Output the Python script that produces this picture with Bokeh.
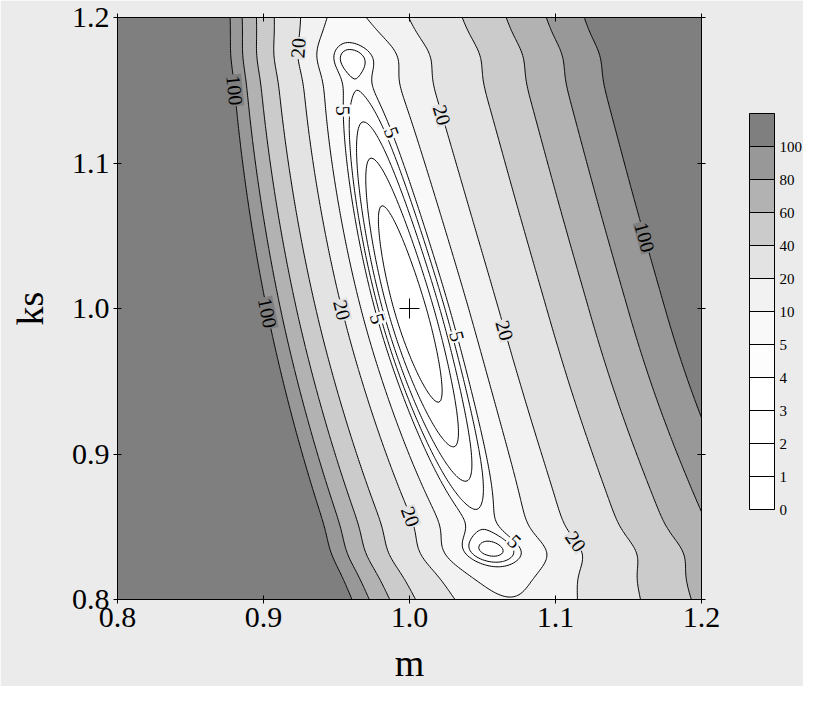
import numpy as np
from bokeh.plotting import figure
from bokeh.models import (LinearAxis, FixedTicker, PrintfTickFormatter, ColorBar,
                          LinearColorMapper, ColumnDataSource)
from bokeh.core.properties import value
from bokeh.embed import file_html
from bokeh.resources import INLINE

# ---------------- data ----------------
m_ticks = [0.8, 0.9, 1.0, 1.1, 1.2]
ks_ticks = [0.8, 0.9, 1.0, 1.1, 1.2]
levels = [0, 1, 2, 3, 4, 5, 10, 20, 40, 60, 80, 100]
band_colors = ["#ffffff", "#ffffff", "#ffffff", "#ffffff", "#fdfdfd", "#f9f9f9",
               "#f2f2f2", "#e3e3e3", "#cbcbcb", "#b2b2b2", "#989898", "#7f7f7f"]
best_m = [1.0]
best_ks = [1.0]

# shape of the error surface (valley) estimated from the contours
valley_tilt = [0.286, 0.31]        # valley centre: m = 1 - a*(ks-1) + b*(ks-1)^2
cross_curv = [8264.0]              # curvature across the valley
right_soft = [8.75]                # flattening of the right flank
right_widen = [3.5]                # right flank widening towards low ks
left_stiff = [2.7]                 # steepening of the left flank
left_taper = [0.85]                # left flank width change with ks
along_top = [249.6, 3.55, 40000.0]     # rise along valley above ks=1
along_bottom = [311.5, 4.64, 60000.0]  # rise along valley below ks=1
dip_t = [0.174, -0.168]            # secondary minima at the ends of the valley
dip_depth = [2.3, 3.6]
dip_width = [0.014, 0.014]

# contour labels: level, ks position, side of valley
label_level = [100, 100, 100, 20, 20, 20, 20, 20, 20, 5, 5, 5, 5, 5]
label_ks = [1.150, 0.997, 1.049, 1.179, 0.999, 0.857, 1.133, 0.985, 0.840,
            1.136, 1.121, 0.993, 0.981, 0.840]
label_side = ["L", "L", "R", "L", "L", "L", "R", "R", "R",
              "L", "R", "L", "R", "R"]


def valley_centre(kv):
    t = kv - 1.0
    return 1.0 - valley_tilt[0] * t + valley_tilt[1] * t ** 2


def surface(mv, kv):
    t = kv - 1.0
    u = mv - valley_centre(kv)
    v = u / (1.0 - left_taper[0] * t)
    w = u / (1.0 + right_widen[0] * np.minimum(t, 0.0) ** 2)
    right = cross_curv[0] * w ** 2 / (1.0 + right_soft[0] * np.abs(w))
    left = cross_curv[0] * v ** 2 * (1.0 + left_stiff[0] * np.abs(v))
    cross = np.where(u >= 0, right, left)
    at = np.abs(t)
    top = along_top[0] * t ** 2 / (1 + along_top[1] * at) + along_top[2] * t ** 6
    bot = along_bottom[0] * t ** 2 / (1 + along_bottom[1] * at) + along_bottom[2] * t ** 6
    base = np.where(t >= 0, top, bot)
    for c, d, wd in zip(dip_t, dip_depth, dip_width):
        base = base - d * np.exp(-((t - c) / wd) ** 2)
    return base + cross


xs = np.linspace(0.8, 1.2, 321)
ys = np.linspace(0.8, 1.2, 321)
MM, KK = np.meshgrid(xs, ys)
Z = surface(MM, KK)

FW, FH = 584, 582
p = figure(frame_width=FW, frame_height=FH, x_range=(0.8, 1.2), y_range=(0.8, 1.2),
           output_backend="svg", toolbar_location=None,
           min_border_left=117, min_border_top=17, min_border_right=102, min_border_bottom=86,
           background_fill_color="#ebebeb", border_fill_color="#ebebeb")
p.grid.visible = False
p.outline_line_color = "black"

fill_levels = [min(-1.0, float(Z.min()) - 1)] + levels[1:] + [float(Z.max()) + 1]
p.contour(xs, ys, Z, fill_levels, fill_color=band_colors, line_color=None)
p.contour(xs, ys, Z, levels[1:], line_color="black", line_width=1)

# contour labels
sx, sy = FW / 0.4, FH / 0.4
fine_m = np.linspace(0.8, 1.2, 8001)
lx, ly, lang, ltxt, lbg = [], [], [], [], []
for lev, kv, side in zip(label_level, label_ks, label_side):
    mc = valley_centre(kv)
    zr = surface(fine_m, kv)
    if side == "L":
        sel = fine_m < mc
        mm = np.interp(lev, zr[sel][::-1], fine_m[sel][::-1])
    else:
        sel = fine_m >= mc
        mm = np.interp(lev, zr[sel], fine_m[sel])
    h = 1e-4
    gm = (surface(mm + h, kv) - surface(mm - h, kv)) / (2 * h)
    gk = (surface(mm, kv + h) - surface(mm, kv - h)) / (2 * h)
    ang = np.arctan2(gm * sy, -gk * sx)
    if ang > np.pi / 2:
        ang -= np.pi
    if ang < -np.pi / 2:
        ang += np.pi
    lx.append(float(mm)); ly.append(kv); lang.append(float(ang))
    ltxt.append(str(lev))
    lbg.append(band_colors[levels.index(lev)])

lsrc = ColumnDataSource(dict(x=lx, y=ly, angle=lang, text=ltxt, bg=lbg))
p.text(x="x", y="y", text="text", angle="angle", source=lsrc,
       text_align="center", text_baseline="middle",
       text_font=value("Liberation Serif"), text_font_size="20px", text_color="black",
       background_fill_color="bg", padding=1)

p.scatter(best_m, best_ks, marker="cross", size=20, line_color="black", line_width=1)

# axes
for ax in (p.xaxis[0], p.yaxis[0]):
    ax.formatter = PrintfTickFormatter(format="%.1f")
    ax.major_label_text_font = "Liberation Serif"
    ax.major_label_text_font_size = "30px"
    ax.major_label_text_color = "black"
    ax.major_label_standoff = 4
    ax.axis_label_text_font = "Liberation Serif"
    ax.axis_label_text_font_size = "38px"
    ax.axis_label_text_font_style = "normal"
    ax.axis_label_text_color = "black"
    ax.major_tick_in = 4
    ax.major_tick_out = 4
    ax.minor_tick_line_color = None
    ax.axis_line_color = "black"
    ax.major_tick_line_color = "black"
p.xaxis[0].ticker = FixedTicker(ticks=m_ticks)
p.yaxis[0].ticker = FixedTicker(ticks=ks_ticks)
p.xaxis[0].axis_label = "m"
p.yaxis[0].axis_label = "ks"
p.xaxis[0].axis_label_standoff = 12
p.yaxis[0].axis_label_standoff = 18

for loc, tk in (("above", m_ticks), ("right", ks_ticks)):
    ax = LinearAxis(ticker=FixedTicker(ticks=tk),
                    major_label_overrides={v: "" for v in tk},
                    major_label_standoff=0, major_tick_in=4, major_tick_out=4,
                    minor_tick_line_color=None, axis_line_color="black")
    p.add_layout(ax, loc)

# colour bar with equal-height bands
mapper = LinearColorMapper(palette=band_colors, low=0, high=len(band_colors))
cb = ColorBar(color_mapper=mapper, ticker=FixedTicker(ticks=list(range(len(levels)))),
              major_label_overrides={i: str(v) for i, v in enumerate(levels)},
              width=25, height=396, padding=0, margin=0, location=(632, 90),
              bar_line_color="black", major_tick_line_color="black",
              major_tick_in=25, major_tick_out=0, minor_tick_line_color=None,
              major_label_text_font="Liberation Serif", major_label_text_font_size="15px",
              major_label_text_color="black", label_standoff=5,
              background_fill_color=None, border_line_color=None)
p.add_layout(cb, "center")

open("out.html", "w").write(file_html(p, INLINE))
